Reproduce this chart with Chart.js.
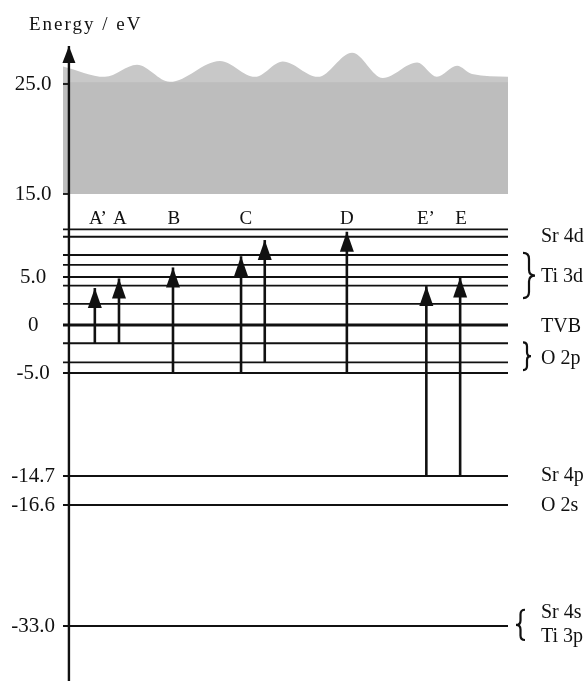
<!DOCTYPE html>
<html>
<head>
<meta charset="utf-8">
<script src="https://cdn.jsdelivr.net/npm/chart.js@4.4.1/dist/chart.umd.min.js"></script>
<style>
    html, body { margin: 0; padding: 0; background: #ffffff; }
    #wrap { width: 587px; height: 681px; }
</style>
</head>
<body>
<div id="wrap"><canvas id="levelChart" width="587" height="681"></canvas></div>
<script>
// Energy levels (eV), top to bottom
const levelEnergies = [10.75, 9.85, 7.65, 6.45, 5.0, 4.1, 2.2, 0, -1.9, -3.9, -5.0, -14.7, -16.6, -33.0];

// Y axis ticks
const tickValues = [25, 15, 5, 0, -5, -14.7, -16.6, -33];
const tickLabels = ['25.0', '15.0', '5.0', '0', '-5.0', '-14.7', '-16.6', '-33.0'];

// Transitions (column on the x scale, axis at 0, levels end at 100; start and end energy in eV)
const arrowColumn = [5.9, 11.4, 23.7, 39.2, 44.6, 63.3, 81.4, 89.1];
const arrowFrom = [-1.9, -1.9, -5.0, -5.0, -3.9, -5.0, -14.7, -14.7];
const arrowTo = [3.85, 4.85, 6.15, 7.5, 9.45, 10.45, 4.05, 4.95];

// Transition names above the levels
const columnLabels = ['A\u2019', 'A', 'B', 'C', 'D', 'E\u2019', 'E'];
const columnLabelX = [6.6, 11.6, 23.9, 40.3, 63.3, 81.3, 89.3];
const columnLabelEnergy = 12.0;

// Continuum band (grey area) above 15 eV
const bandX = [-1.35, 8.2, 15.5, 23.0, 34.4, 42.4, 48.7, 56.7, 64.5, 71.5, 79.3, 83.8, 88.4, 91.8, 100];
const bandTop = [26.6, 25.65, 26.75, 25.2, 27.1, 25.65, 27.05, 25.65, 27.85, 25.55, 26.95, 25.65, 26.65, 25.9, 25.65];
const bandFloor = 15.0;
const bandEdge = 25.15;

// State names on the right
const stateLabels = ['Sr 4d', 'Ti 3d', 'TVB', 'O 2p', 'Sr 4p', 'O 2s', 'Sr 4s', 'Ti 3p'];
const stateEnergies = [9.8, 5.0, -0.2, -3.5, -14.7, -16.7, -31.2, -34.4];

// Braces grouping levels (energy range)
const braceTop = [7.9, -1.8, -30.8];
const braceBottom = [2.8, -4.7, -34.9];
const braceKind = ['}', '}', '{'];

// Axis extent (eV) and left stub of the level lines / ticks
const axisTop = 28.45;
const axisBottom = -40.5;
const stubX = -1.35;

// The energy axis is drawn broken: each segment has its own scale.
// Anchor energies -> position along the diagram height (0 = top).
const anchorE = [25, 15, 5, 0, -5, -14.7, -16.6, -33];
const anchorPos = [84, 194, 277, 325, 373, 476, 505, 626];

function toPos(e) {
    let i = 0;
    if (e >= anchorE[0]) i = 0;
    else if (e <= anchorE[anchorE.length - 1]) i = anchorE.length - 2;
    else {
        while (!(e <= anchorE[i] && e >= anchorE[i + 1])) i++;
    }
    const t = (e - anchorE[i]) / (anchorE[i + 1] - anchorE[i]);
    return anchorPos[i] + t * (anchorPos[i + 1] - anchorPos[i]);
}

const serif = "'Liberation Serif', 'DejaVu Serif', serif";
const ink = '#111111';

// Build datasets (first in list is drawn on top)
const datasets = [];

arrowColumn.forEach((x, i) => {
    datasets.push({
        data: [{ x: x, y: toPos(arrowFrom[i]) }, { x: x, y: toPos(arrowTo[i]) }],
        borderColor: ink,
        borderWidth: 2.6,
        pointRadius: 0,
        clip: false,
        arrowHead: { w: 14, h: 20 },
    });
});

datasets.push({
    data: [{ x: 0, y: toPos(axisBottom) }, { x: 0, y: toPos(axisTop) }],
    borderColor: ink,
    borderWidth: 2.4,
    pointRadius: 0,
    clip: false,
    arrowHead: { w: 13, h: 17 },
});

// tick marks on the axis
tickValues.forEach((v) => {
    datasets.push({
        data: [{ x: stubX, y: toPos(v) }, { x: 0, y: toPos(v) }],
        borderColor: ink,
        borderWidth: 1.8,
        pointRadius: 0,
        clip: false,
    });
});

levelEnergies.forEach((e) => {
    datasets.push({
        data: [{ x: stubX, y: toPos(e) }, { x: 100, y: toPos(e) }],
        borderColor: ink,
        borderWidth: e === 0 ? 3.2 : 1.8,
        pointRadius: 0,
        clip: false,
    });
});

datasets.push({
    data: [{ x: stubX, y: toPos(bandEdge) }, { x: 100, y: toPos(bandEdge) }],
    borderWidth: 0,
    borderColor: 'rgba(0,0,0,0)',
    backgroundColor: '#bdbdbd',
    fill: { value: toPos(bandFloor) },
    pointRadius: 0,
});

datasets.push({
    data: bandX.map((x, i) => ({ x: x, y: toPos(bandTop[i]) })),
    borderWidth: 0,
    borderColor: 'rgba(0,0,0,0)',
    backgroundColor: '#c8c8c8',
    fill: { value: toPos(bandFloor) },
    cubicInterpolationMode: 'monotone',
    pointRadius: 0,
});

function drawBrace(ctx, x, y1, y2, w, dir) {
    const ym = (y1 + y2) / 2;
    const xm = x + dir * w * 0.5;
    const xt = x + dir * w;
    const r = Math.min(w * 0.5, (y2 - y1) / 4);
    ctx.beginPath();
    ctx.moveTo(x, y1);
    ctx.quadraticCurveTo(xm, y1, xm, y1 + r);
    ctx.lineTo(xm, ym - r);
    ctx.quadraticCurveTo(xm, ym, xt, ym);
    ctx.quadraticCurveTo(xm, ym, xm, ym + r);
    ctx.lineTo(xm, y2 - r);
    ctx.quadraticCurveTo(xm, y2, x, y2);
    ctx.stroke();
}

const diagramPlugin = {
    id: 'diagramDecor',
    afterDatasetsDraw(chart) {
        const ctx = chart.ctx;
        const xs = chart.scales.x;
        const ys = chart.scales.y;
        const right = xs.getPixelForValue(100);

        // arrow heads
        chart.data.datasets.forEach((ds, i) => {
            if (!ds.arrowHead) return;
            const tip = chart.getDatasetMeta(i).data[1];
            const { w, h } = ds.arrowHead;
            ctx.save();
            ctx.fillStyle = ink;
            ctx.beginPath();
            ctx.moveTo(tip.x, tip.y);
            ctx.lineTo(tip.x + w / 2, tip.y + h);
            ctx.lineTo(tip.x - w / 2, tip.y + h);
            ctx.closePath();
            ctx.fill();
            ctx.restore();
        });

        ctx.save();
        ctx.fillStyle = ink;

        // axis title
        ctx.font = '19px ' + serif;
        ctx.textAlign = 'left';
        ctx.textBaseline = 'alphabetic';
        ctx.letterSpacing = '2px';
        ctx.fillText('Energy / eV', 29, 29.5);
        ctx.letterSpacing = '0px';

        // transition names
        ctx.font = '19px ' + serif;
        ctx.textAlign = 'center';
        ctx.textBaseline = 'middle';
        columnLabels.forEach((t, i) => {
            ctx.fillText(t, xs.getPixelForValue(columnLabelX[i]), ys.getPixelForValue(toPos(columnLabelEnergy)));
        });

        // state names
        ctx.font = '20px ' + serif;
        ctx.textAlign = 'left';
        stateLabels.forEach((t, i) => {
            ctx.fillText(t, right + 33, ys.getPixelForValue(toPos(stateEnergies[i])));
        });

        // braces
        ctx.strokeStyle = ink;
        ctx.lineWidth = 2.2;
        braceKind.forEach((k, i) => {
            const y1 = ys.getPixelForValue(toPos(braceTop[i]));
            const y2 = ys.getPixelForValue(toPos(braceBottom[i]));
            if (k === '}') {
                const w = (y2 - y1) > 35 ? 12 : 8;
                drawBrace(ctx, right + 15, y1, y2, w, 1);
            } else {
                drawBrace(ctx, right + 17, y1, y2, 9, -1);
            }
        });
        ctx.restore();
    }
};

const chart = new Chart(document.getElementById('levelChart').getContext('2d'), {
    type: 'line',
    data: { datasets: datasets },
    options: {
        responsive: false,
        animation: false,
        events: [],
        layout: { padding: { top: 0, right: 79, bottom: 0, left: 0 } },
        plugins: {
            legend: { display: false },
            tooltip: { enabled: false },
        },
        scales: {
            x: { type: 'linear', min: stubX, max: 100, display: false },
            y: {
                type: 'linear',
                min: 0,
                max: 681,
                reverse: true,
                position: 'left',
                afterBuildTicks: (scale) => {
                    scale.ticks = tickValues.map(v => ({ value: toPos(v) }));
                },
                afterFit: (scale) => {
                    scale.width = 63;
                    scale.paddingTop = 0;
                    scale.paddingBottom = 0;
                },
                ticks: {
                    autoSkip: false,
                    callback: (value, index) => tickLabels[index],
                    font: { family: serif, size: 21 },
                    color: ink,
                    padding: 0,
                    crossAlign: 'center',
                },
                grid: { display: false },
                border: { display: false },
            },
        },
    },
    plugins: [diagramPlugin],
});
</script>
</body>
</html>
